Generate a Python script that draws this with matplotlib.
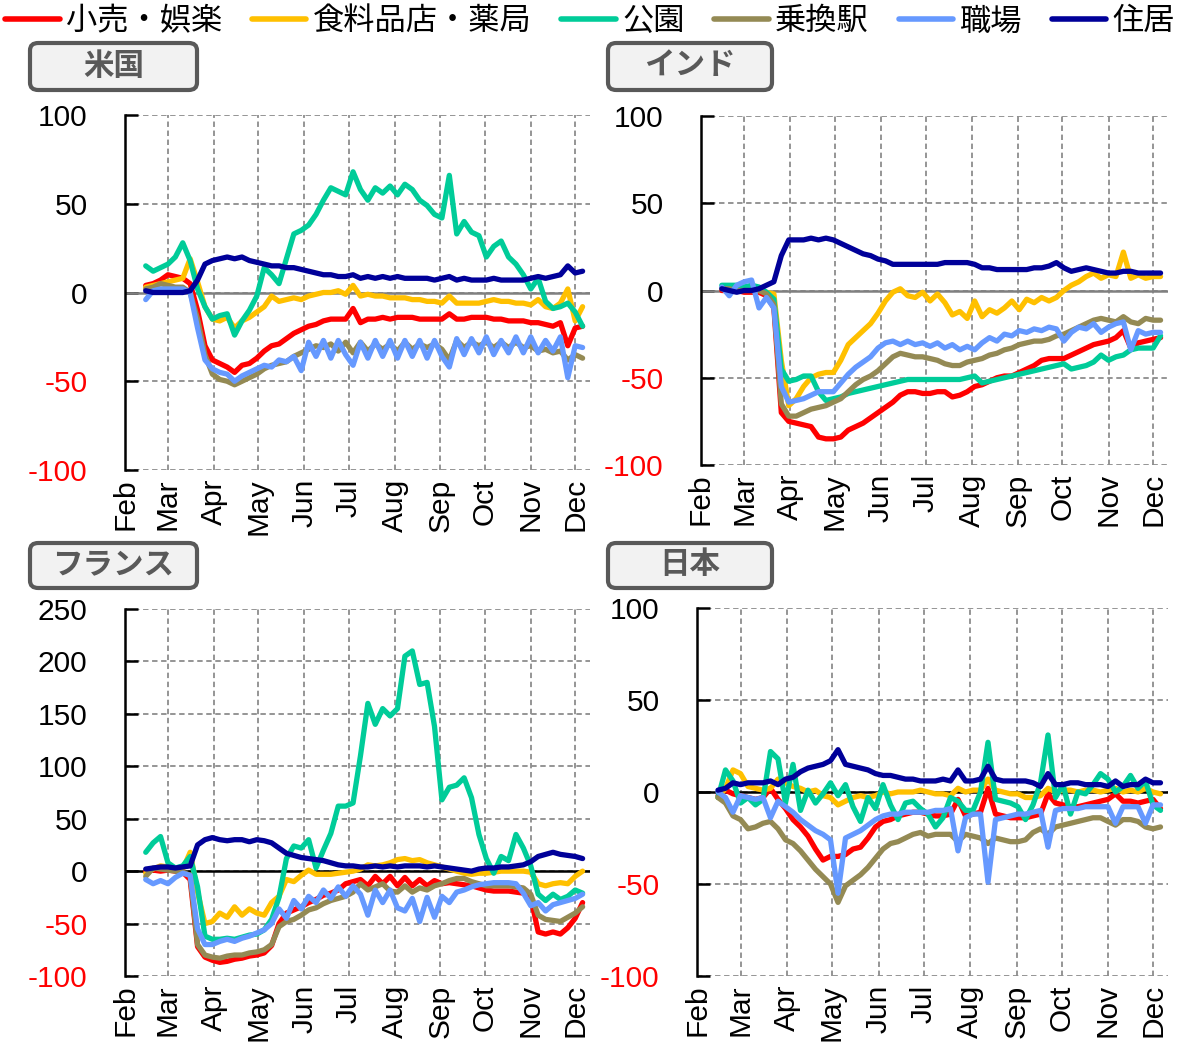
import pandas as pd
import matplotlib.pyplot as plt
import matplotlib.dates as mdates
from matplotlib.patches import FancyBboxPatch
from matplotlib.lines import Line2D

plt.rcParams['font.family'] = ['Liberation Sans', 'Noto Sans CJK JP']
plt.rcParams['axes.unicode_minus'] = False

# sample dates (every 5 days, Feb 15 - Dec 6 2020)
dates = pd.date_range('2020-02-15', periods=60, freq='5D')

series_names = ['小売・娯楽', '食料品店・薬局', '公園', '乗換駅', '職場', '住居']
colors = ['#ff0000', '#ffc000', '#00cc99', '#948a54', '#6699ff', '#000099']

# --- US ---
us_retail = [4, 5, 7, 10, 9, 8, 5, -10, -30, -38,
             -40, -42, -45, -41, -40, -37, -33, -30, -29, -26,
             -23, -21, -19, -18, -16, -15, -15, -15, -9, -17,
             -15, -15, -14, -15, -14, -14, -14, -15, -15, -15,
             -15, -12, -15, -15, -14, -14, -14, -15, -15, -16,
             -16, -16, -17, -17, -18, -19, -17, -30, -20, -19]
us_grocery = [3, 4, 5, 6, 7, 8, 19, 6, -8, -15,
              -16, -14, -20, -16, -14, -11, -8, -2, -5, -4,
              -3, -4, -2, -1, 0, 0, 1, -1, 4, -2,
              -1, -2, -2, -3, -3, -3, -4, -4, -5, -5,
              -6, -2, -6, -6, -6, -6, -5, -4, -5, -5,
              -6, -6, -7, -4, -8, -9, -6, 2, -16, -8]
us_parks = [15, 12, 14, 16, 20, 28, 18, 2, -8, -15,
            -13, -12, -24, -16, -10, -2, 14, 10, 5, 19,
            33, 35, 38, 44, 52, 59, 57, 55, 68, 58,
            52, 59, 56, 60, 55, 61, 58, 52, 49, 44,
            42, 66, 33, 40, 34, 32, 20, 26, 29, 20,
            16, 10, 2, 8, -5, -9, -8, -6, -11, -19]
us_transit = [2, 3, 5, 4, 3, 3, 0, -15, -35, -46,
              -49, -50, -52, -50, -48, -46, -43, -41, -40, -39,
              -36, -34, -32, -30, -31, -29, -33, -28, -34, -28,
              -33, -29, -32, -29, -33, -28, -32, -29, -31, -29,
              -32, -38, -27, -31, -28, -30, -28, -31, -28, -31,
              -28, -31, -30, -33, -32, -34, -33, -38, -35, -37]
us_work = [-4, 1, 2, 2, 2, 2, 0, -20, -38, -43,
           -45, -46, -50, -47, -45, -43, -41, -42, -38, -39,
           -36, -44, -28, -36, -27, -37, -27, -35, -41, -28,
           -37, -27, -36, -27, -37, -27, -36, -27, -37, -27,
           -36, -42, -26, -35, -26, -34, -25, -35, -27, -34,
           -25, -34, -25, -34, -27, -33, -25, -48, -30, -31]
us_home = [1, 0, 0, 0, 0, 0, 1, 7, 16, 18,
           19, 20, 19, 20, 18, 17, 16, 15, 15, 14,
           14, 13, 12, 11, 10, 10, 9, 9, 10, 8,
           9, 8, 9, 8, 9, 8, 8, 8, 8, 7,
           8, 9, 7, 8, 7, 7, 7, 8, 7, 7,
           7, 7, 8, 9, 8, 9, 10, 15, 11, 12]

# --- India ---
in_retail = [0, 0, 0, -1, -1, -1, -3, -10, -70, -75,
             -76, -77, -78, -84, -85, -85, -84, -80, -78, -76,
             -73, -70, -67, -64, -60, -58, -58, -59, -59, -58,
             -58, -61, -60, -58, -55, -54, -52, -50, -49, -49,
             -47, -45, -43, -40, -39, -39, -39, -37, -35, -33,
             -31, -30, -29, -27, -23, -33, -30, -29, -28, -27]
in_grocery = [1, 0, 0, 1, 0, 0, -1, -2, -40, -66,
              -62, -55, -50, -48, -47, -47, -40, -31, -27, -23,
              -19, -13, -6, -1, 1, -3, -4, -1, -6, -2,
              -7, -14, -12, -16, -6, -15, -11, -13, -10, -6,
              -11, -5, -7, -4, -6, -4, 0, 3, 5, 8,
              10, 7, 9, 8, 22, 7, 9, 7, 8, 8]
in_parks = [3, 3, 3, 2, 3, 2, -1, -5, -45, -52,
            -51, -49, -49, -58, -63, -62, -61, -59, -58, -57,
            -56, -55, -54, -53, -52, -51, -51, -51, -51, -51,
            -51, -51, -51, -50, -49, -53, -52, -51, -50, -49,
            -48, -47, -46, -45, -44, -43, -42, -45, -44, -43,
            -41, -37, -40, -38, -37, -34, -33, -33, -33, -26]
in_transit = [1, 1, 0, 0, 0, 0, -2, -8, -65, -72,
              -72, -70, -68, -67, -66, -64, -62, -58, -54, -51,
              -49, -46, -42, -38, -36, -37, -38, -38, -39, -40,
              -42, -43, -43, -41, -40, -39, -37, -36, -34, -33,
              -31, -30, -29, -29, -28, -26, -25, -23, -21, -19,
              -17, -16, -17, -18, -15, -18, -19, -16, -17, -17]
in_work = [2, -3, 3, 5, 6, -10, -4, -10, -55, -64,
           -63, -62, -60, -58, -58, -58, -53, -48, -44, -41,
           -38, -33, -30, -29, -31, -29, -31, -30, -32, -30,
           -33, -31, -34, -32, -34, -30, -27, -29, -25, -26,
           -23, -24, -22, -23, -21, -22, -29, -24, -21, -22,
           -19, -24, -21, -19, -18, -34, -23, -25, -24, -24]
in_home = [1, 0, -1, 0, 0, 1, 3, 5, 20, 29,
           29, 29, 30, 29, 30, 29, 27, 25, 23, 21,
           20, 18, 17, 15, 15, 15, 15, 15, 15, 15,
           16, 16, 16, 16, 15, 13, 13, 12, 12, 12,
           12, 12, 13, 13, 14, 16, 13, 11, 12, 13,
           12, 11, 10, 10, 11, 11, 10, 10, 10, 10]

# --- France ---
fr_retail = [0, 1, 0, 1, 0, -1, -8, -72, -82, -85,
             -87, -86, -84, -83, -81, -80, -78, -71, -50, -40,
             -37, -34, -30, -27, -23, -21, -18, -12, -10, -8,
             -14, -5, -12, -5, -14, -6, -14, -8, -14, -9,
             -12, -11, -12, -13, -14, -16, -18, -19, -19, -19,
             -20, -21, -25, -58, -60, -58, -60, -54, -45, -30]
fr_grocery = [-2, 2, 5, 4, 2, 2, 18, -20, -50, -48,
              -40, -44, -34, -42, -36, -40, -42, -30, -24, -8,
              -10, -4, 1, -3, -3, -3, -2, -1, 0, 2,
              6, 5, 6, 8, 11, 12, 10, 11, 8, 6,
              4, 2, 0, -2, -3, -2, -2, -1, 0, 0,
              0, 0, -1, -12, -14, -12, -11, -12, -5, 0]
fr_parks = [18, 27, 33, 8, 3, 5, 14, -15, -62, -65,
            -65, -64, -65, -63, -61, -60, -56, -46, -25, 12,
            24, 22, 30, 3, 20, 36, 62, 62, 65, 110,
            160, 140, 155, 148, 155, 205, 210, 178, 180, 138,
            68, 80, 82, 89, 70, 35, 12, -2, 14, 10,
            35, 22, 5, -22, -28, -22, -27, -24, -18, -21]
fr_transit = [-5, 3, 2, 1, 0, -1, -4, -70, -80, -82,
              -83, -81, -80, -80, -78, -77, -75, -70, -53, -48,
              -46, -42, -37, -35, -31, -28, -26, -24, -20, -12,
              -18, -15, -12, -19, -20, -14, -20, -16, -18, -14,
              -12, -9, -7, -7, -10, -12, -14, -14, -14, -14,
              -15, -16, -22, -42, -46, -47, -48, -44, -40, -34]
fr_work = [-8, -12, -9, -12, -6, -2, -4, -55, -70, -70,
           -67, -65, -67, -64, -62, -59, -56, -50, -36, -45,
           -28, -36, -24, -30, -18, -26, -15, -24, -14, -22,
           -42, -18, -30, -18, -35, -38, -26, -48, -25, -44,
           -24, -30, -20, -18, -15, -13, -12, -11, -11, -11,
           -12, -21, -33, -30, -38, -32, -30, -28, -26, -22]
fr_home = [2, 3, 4, 4, 3, 4, 5, 25, 30, 32,
           30, 29, 30, 30, 28, 30, 29, 27, 22, 17,
           15, 13, 12, 11, 10, 8, 6, 5, 5, 4,
           4, 5, 4, 5, 4, 5, 5, 5, 4, 5,
           4, 3, 2, 1, 0, 2, 3, 3, 4, 4,
           5, 6, 9, 14, 16, 18, 16, 15, 14, 12]

# --- Japan ---
jp_retail = [-2, 1, -1, -2, -3, -4, -3, 2, -4, -9,
             -15, -19, -24, -31, -37, -35, -35, -34, -31, -30,
             -25, -19, -16, -15, -13, -12, -11, -11, -12, -13,
             -13, -12, -4, -13, -12, -11, 2, -12, -13, -14,
             -14, -14, -13, -12, -1, -6, -7, -8, -8, -7,
             -6, -5, -4, -1, -5, -5, -6, -5, -4, -9]
jp_grocery = [-3, 2, 12, 10, 3, 2, 1, 2, 7, 5,
              3, 2, 0, 1, -2, -3, -7, -5, -3, -2,
              -3, -2, 0, -1, 0, 0, 0, 1, 0, -1,
              -1, -2, 2, 0, 1, 1, 7, 1, 0, -1,
              -1, -3, -3, -2, 2, 0, 1, 1, 0, 1,
              1, 0, 1, 2, 0, 1, 0, 2, 0, -1]
jp_parks = [-3, 12, 6, -6, -3, -7, -4, 22, 18, -6,
            15, -10, 1, -6, -1, 5, -2, 4, -8, -16,
            -3, -9, 4, -7, -15, -6, -5, -9, -12, -19,
            -14, -3, -5, -10, -10, 0, 27, -4, -5, -6,
            -8, -15, -7, 5, 31, -3, 4, -12, 0, -1,
            4, 10, 7, 0, 3, 9, 2, 6, -7, -10]
jp_transit = [-3, -6, -13, -15, -20, -19, -17, -16, -20, -26,
              -28, -32, -37, -42, -46, -50, -60, -51, -48, -45,
              -41, -36, -31, -28, -27, -25, -23, -22, -24, -23,
              -23, -23, -27, -23, -24, -25, -28, -25, -26, -27,
              -27, -26, -22, -20, -23, -19, -18, -17, -16, -15,
              -14, -14, -16, -18, -15, -15, -16, -19, -20, -19]
jp_work = [0, -3, -11, -2, -3, -4, -3, -14, -5, -8,
           -11, -15, -18, -21, -23, -26, -55, -25, -23, -21,
           -18, -15, -13, -12, -12, -11, -11, -11, -11, -10,
           -10, -9, -32, -14, -12, -12, -49, -15, -14, -13,
           -12, -12, -11, -10, -30, -10, -9, -9, -9, -8,
           -8, -8, -8, -17, -8, -8, -8, -17, -7, -7]
jp_home = [1, 2, 5, 4, 5, 5, 5, 6, 4, 7,
           8, 11, 13, 14, 15, 17, 23, 15, 14, 13,
           12, 10, 9, 9, 8, 7, 7, 6, 6, 6,
           7, 6, 12, 6, 6, 7, 14, 7, 6, 6,
           6, 6, 5, 3, 10, 4, 4, 5, 5, 4,
           4, 4, 3, 6, 3, 4, 4, 7, 5, 5]

panels = [
    ('米国', [us_retail, us_grocery, us_parks, us_transit, us_work, us_home],
     [-100, -50, 0, 50, 100], '#808080',
     [125, 115, 590, 470], [30, 43, 197, 90]),
    ('インド', [in_retail, in_grocery, in_parks, in_transit, in_work, in_home],
     [-100, -50, 0, 50, 100], '#808080',
     [701, 116, 1168, 465], [608, 43, 772, 90]),
    ('フランス', [fr_retail, fr_grocery, fr_parks, fr_transit, fr_work, fr_home],
     [-100, -50, 0, 50, 100, 150, 200, 250], 'black',
     [125, 609, 590, 976], [30, 543, 197, 588]),
    ('日本', [jp_retail, jp_grocery, jp_parks, jp_transit, jp_work, jp_home],
     [-100, -50, 0, 50, 100], 'black',
     [697, 608, 1168, 976], [608, 543, 772, 588]),
]

W, H = 1180, 1048
fig = plt.figure(figsize=(W / 100, H / 100), dpi=100)

for title, data, yticks, zero_color, (x0, y0, x1, y1), (bx0, by0, bx1, by1) in panels:
    ax = fig.add_axes([x0 / W, 1 - y1 / H, (x1 - x0) / W, (y1 - y0) / H])
    for vals, c in zip(data, colors):
        ax.plot(dates, vals, color=c, lw=3.8, solid_joinstyle='round',
                solid_capstyle='round')
    ax.axhline(0, color=zero_color, lw=1.8, zorder=1.5)

    ax.set_xlim(pd.Timestamp('2020-02-01'), pd.Timestamp('2020-12-11'))
    ax.set_ylim(yticks[0], yticks[-1])
    ax.set_yticks(yticks)
    ax.xaxis.set_major_locator(mdates.MonthLocator())
    ax.xaxis.set_major_formatter(mdates.DateFormatter('%b'))
    ax.grid(True, ls=(0, (3, 2)), color='#8c8c8c', lw=1.3)
    ax.set_axisbelow(True)

    for s in ['top', 'right', 'bottom']:
        ax.spines[s].set_visible(False)
    ax.spines['left'].set_linewidth(1.8)
    ax.tick_params(axis='y', direction='in', length=9, width=1.8,
                   labelsize=21.5, pad=27)
    ax.tick_params(axis='x', length=0, labelsize=21.5, pad=6, labelrotation=90)
    for lbl, v in zip(ax.get_yticklabels(), yticks):
        lbl.set_color('#ff0000' if v < 0 else 'black')

    # panel title box
    fig.add_artist(FancyBboxPatch((bx0 / W, 1 - by1 / H), (bx1 - bx0) / W, (by1 - by0) / H,
                                  boxstyle='round,pad=0,rounding_size=0.007',
                                  transform=fig.transFigure, fc='#f2f2f2',
                                  ec='#595959', lw=3))
    fig.text((bx0 + bx1) / 2 / W, 1 - (by0 + by1) / 2 / H, title,
             ha='center', va='center', fontsize=22, fontweight='bold',
             color='#595959')

handles = [Line2D([], [], color=c, lw=4, solid_capstyle='round') for c in colors]
fig.legend(handles, series_names, loc='upper center', bbox_to_anchor=(0.5, 0.996),
           ncol=6, frameon=False, fontsize=22.5, handlelength=1.75,
           handletextpad=0.2, columnspacing=0.95, borderpad=0.1, borderaxespad=0)

fig.savefig('out.png', dpi=100)
